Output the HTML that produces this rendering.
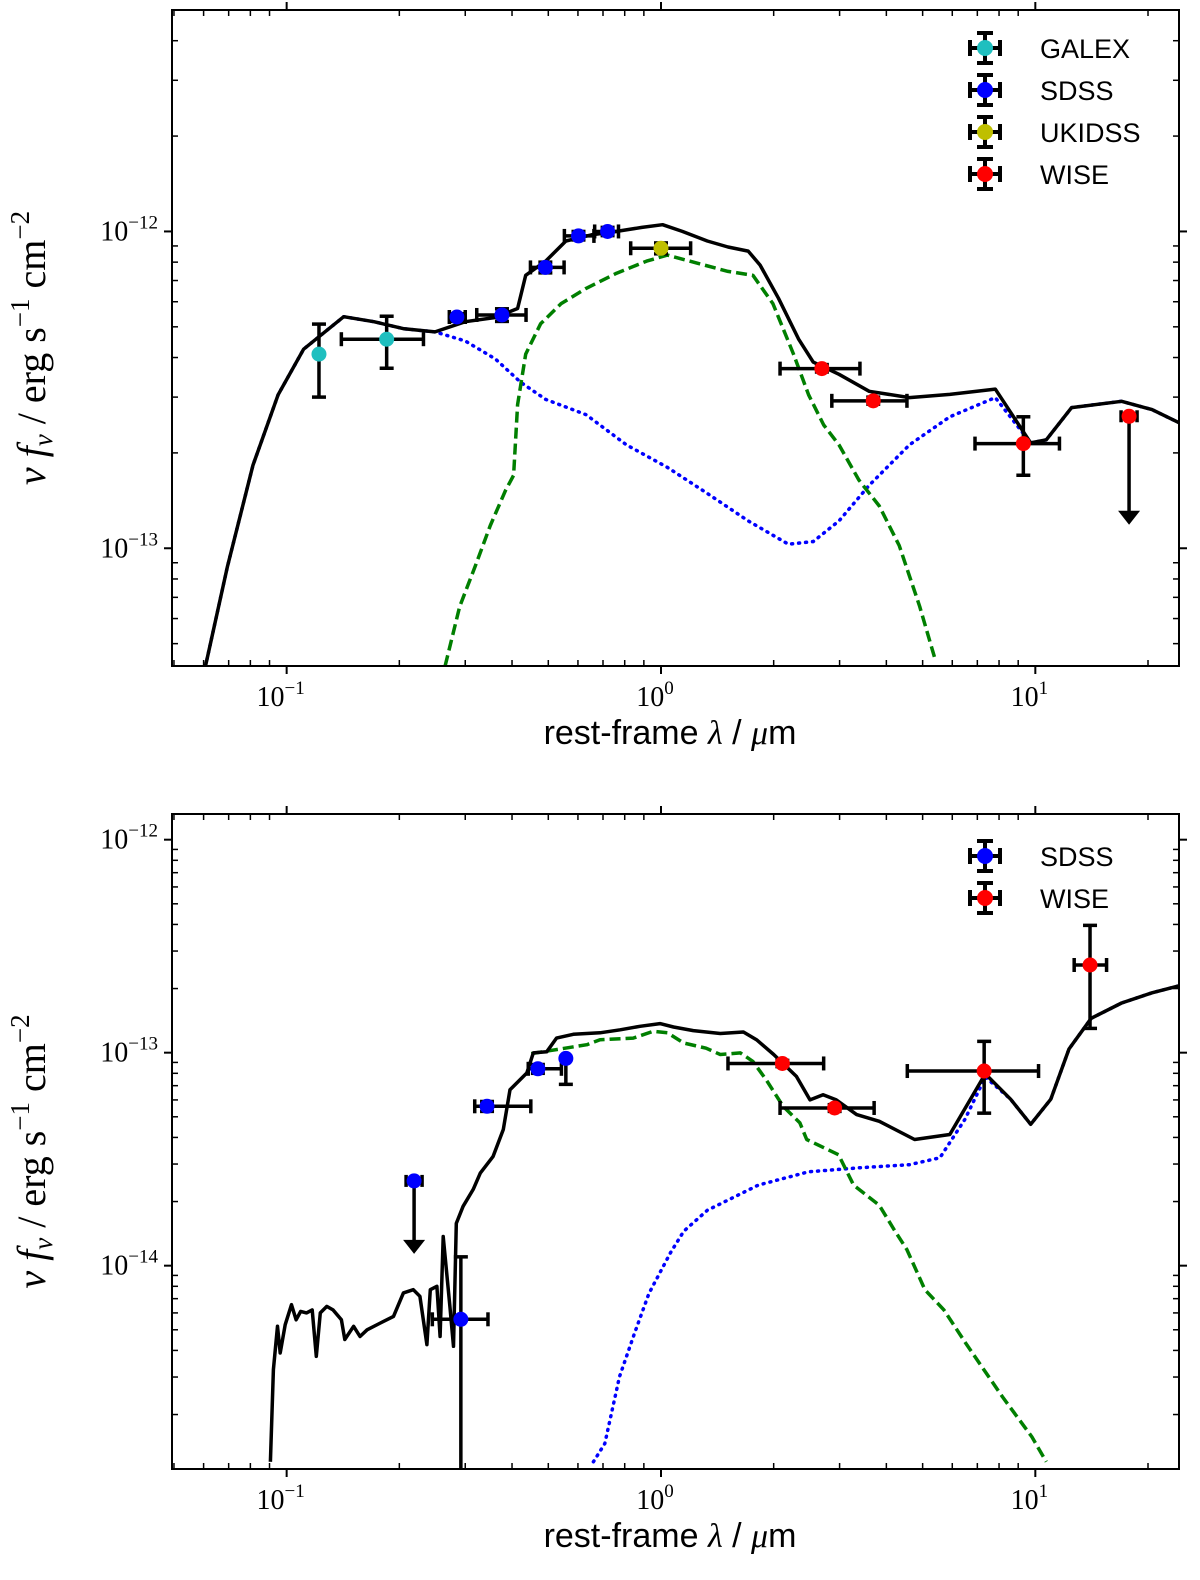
<!DOCTYPE html>
<html><head><meta charset="utf-8"><title>SED fits</title>
<style>html,body{margin:0;padding:0;background:#fff;width:1200px;height:1580px;overflow:hidden}svg{display:block}</style></head>
<body>
<svg id="fig" xmlns="http://www.w3.org/2000/svg" width="1200" height="1580" viewBox="0 0 1200 1580"></svg>
<script>
// ---------------- TOP PANEL DATA ----------------
const topModelLam = [0.0607,0.0695,0.0813,0.0949,0.111,0.142,0.171,0.206,0.249,0.300,0.361,0.414,0.435,0.492,0.557,0.651,0.761,0.889,1.01,1.14,1.33,1.51,1.71,1.84,2.06,2.33,2.55,2.99,3.60,4.61,5.91,7.82,9.72,10.7,12.5,17.0,20.5,24.4];
const topModelFlux = [4.22e-14,8.77e-14,1.83e-13,3.05e-13,4.25e-13,5.38e-13,5.19e-13,4.93e-13,4.82e-13,5.19e-13,5.35e-13,5.71e-13,7.27e-13,8.06e-13,9.33e-13,9.75e-13,1.00e-12,1.03e-12,1.05e-12,1.00e-12,9.33e-13,8.93e-13,8.67e-13,7.83e-13,6.15e-13,4.58e-13,3.87e-13,3.54e-13,3.13e-13,2.99e-13,3.06e-13,3.18e-13,2.15e-13,2.20e-13,2.78e-13,2.91e-13,2.74e-13,2.49e-13];
const topAgnLam = [0.0607,0.0695,0.0813,0.0949,0.111,0.142,0.171,0.206,0.249,0.300,0.361,0.422,0.492,0.631,0.809,1.04,1.33,1.71,2.19,2.55,2.99,3.60,4.61,5.91,7.82,9.72,10.7,12.5,17.0,20.5,24.4];
const topAgnFlux = [4.22e-14,8.77e-14,1.83e-13,3.05e-13,4.25e-13,5.38e-13,5.19e-13,4.93e-13,4.82e-13,4.51e-13,3.96e-13,3.34e-13,2.95e-13,2.64e-13,2.12e-13,1.80e-13,1.49e-13,1.22e-13,1.03e-13,1.05e-13,1.22e-13,1.58e-13,2.12e-13,2.60e-13,2.99e-13,2.15e-13,2.20e-13,2.78e-13,2.91e-13,2.74e-13,2.49e-13];
const topHostLam = [0.265,0.290,0.319,0.350,0.384,0.404,0.414,0.435,0.477,0.541,0.631,0.761,0.916,1.04,1.25,1.51,1.76,1.99,2.26,2.48,2.72,2.99,3.38,3.83,4.33,4.91,5.38];
const topHostFlux = [4.22e-14,6.55e-14,8.77e-14,1.18e-13,1.52e-13,1.70e-13,2.84e-13,4.10e-13,5.11e-13,5.92e-13,6.61e-13,7.38e-13,8.06e-13,8.42e-13,7.94e-13,7.48e-13,7.27e-13,5.92e-13,4.10e-13,3.05e-13,2.45e-13,2.12e-13,1.64e-13,1.36e-13,1.02e-13,6.55e-14,4.53e-14];
const topPtSurvey = ["GALEX","GALEX","SDSS","SDSS","SDSS","SDSS","SDSS","UKIDSS","WISE","WISE","WISE","WISE"];
const topPtLam   = [0.122,0.185,0.285,0.376,0.491,0.602,0.720,1.00,2.69,3.69,9.29,17.8];
const topPtFlux  = [4.1e-13,4.57e-13,5.37e-13,5.45e-13,7.7e-13,9.68e-13,1.0e-12,8.85e-13,3.69e-13,2.92e-13,2.14e-13,2.61e-13];
const topPtLamLo = [0.122,0.140,0.272,0.322,0.448,0.552,0.665,0.83,2.08,2.86,6.9,17.8];
const topPtLamHi = [0.122,0.232,0.300,0.436,0.551,0.662,0.770,1.20,3.40,4.54,11.6,17.8];
const topPtFluxLo= [3.0e-13,3.7e-13,5.2e-13,5.2e-13,7.4e-13,9.4e-13,9.7e-13,8.5e-13,3.6e-13,2.85e-13,1.7e-13,2.61e-13];
const topPtFluxHi= [5.1e-13,5.4e-13,5.5e-13,5.7e-13,8.0e-13,1.0e-12,1.03e-12,9.2e-13,3.8e-13,3.0e-13,2.6e-13,2.61e-13];
const topPtUpper = [0,0,0,0,0,0,0,0,0,0,0,1];
const topLegend = ["GALEX","SDSS","UKIDSS","WISE"];
// ---------------- BOTTOM PANEL DATA ----------------
const botModelLam = [0.0905,0.0922,0.0945,0.0961,0.0991,0.103,0.106,0.109,0.113,0.117,0.120,0.123,0.128,0.133,0.140,0.143,0.151,0.157,0.164,0.178,0.193,0.205,0.218,0.227,0.237,0.242,0.252,0.257,0.262,0.273,0.279,0.284,0.296,0.315,0.329,0.356,0.379,0.395,0.438,0.456,0.495,0.526,0.583,0.687,0.778,0.879,0.994,1.08,1.22,1.44,1.66,1.80,2.0,2.30,2.50,2.71,2.94,3.33,3.83,4.76,5.91,7.35,8.59,9.72,11.0,12.3,14.1,17.0,20.5,24.4];
const botModelFlux = [1.2e-15,3.25e-15,5.19e-15,3.89e-15,5.28e-15,6.56e-15,5.57e-15,6.1e-15,6.0e-15,6.2e-15,3.75e-15,6.0e-15,6.44e-15,6.2e-15,5.57e-15,4.5e-15,5.19e-15,4.65e-15,5.0e-15,5.38e-15,5.78e-15,7.45e-15,7.71e-15,7.18e-15,4.26e-15,7.71e-15,8.0e-15,4.65e-15,1.37e-14,6.44e-15,4.18e-15,1.58e-14,1.90e-14,2.28e-14,2.72e-14,3.26e-14,4.36e-14,6.7e-14,8.03e-14,9.98e-14,1.01e-13,1.17e-13,1.22e-13,1.24e-13,1.28e-13,1.33e-13,1.37e-13,1.32e-13,1.27e-13,1.23e-13,1.25e-13,1.15e-13,9.8e-14,7.74e-14,6.0e-14,6.35e-14,6.0e-14,5.12e-14,4.76e-14,3.91e-14,4.13e-14,7.95e-14,6.05e-14,4.61e-14,6.05e-14,1.04e-13,1.45e-13,1.71e-13,1.91e-13,2.06e-13];
const botAgnLam = [0.66,0.708,0.775,0.849,0.929,1.06,1.15,1.33,1.82,2.48,3.38,4.61,5.56,6.49,7.35,8.59,9.72,11.0,12.3,14.1,17.0,20.5,24.4];
const botAgnFlux = [1.2e-15,1.46e-15,3.01e-15,4.80e-15,7.42e-15,1.15e-14,1.45e-14,1.82e-14,2.39e-14,2.76e-14,2.88e-14,2.98e-14,3.21e-14,4.87e-14,7.69e-14,6.05e-14,4.61e-14,6.05e-14,1.04e-13,1.45e-13,1.71e-13,1.91e-13,2.06e-13];
const botHostLam = [0.45,0.634,0.687,0.843,0.954,1.04,1.15,1.32,1.44,1.63,1.76,1.91,2.12,2.35,2.45,2.98,3.27,3.83,4.2,4.54,5.07,5.70,6.52,8.17,9.79,10.7];
const botHostFlux = [9.9e-14,1.09e-13,1.15e-13,1.17e-13,1.26e-13,1.24e-13,1.11e-13,1.05e-13,9.8e-14,9.98e-14,9.1e-14,7.46e-14,5.6e-14,4.68e-14,3.91e-14,3.32e-14,2.39e-14,1.92e-14,1.47e-14,1.19e-14,7.71e-15,6.2e-15,4.32e-15,2.42e-15,1.57e-15,1.2e-15];
const botPtSurvey = ["SDSS","SDSS","SDSS","SDSS","SDSS","WISE","WISE","WISE","WISE"];
const botPtLam   = [0.219,0.292,0.343,0.469,0.557,2.11,2.91,7.3,14.0];
const botPtFlux  = [2.5e-14,5.6e-15,5.6e-14,8.4e-14,9.4e-14,8.9e-14,5.5e-14,8.2e-14,2.58e-13];
const botPtLamLo = [0.219,0.245,0.318,0.442,0.557,1.51,2.08,4.55,12.7];
const botPtLamHi = [0.219,0.345,0.449,0.542,0.557,2.72,3.71,10.2,15.5];
const botPtFluxLo= [2.5e-14,1e-16,5.3e-14,8.0e-14,7.1e-14,8.6e-14,5.3e-14,5.2e-14,1.3e-13];
const botPtFluxHi= [2.5e-14,1.1e-14,5.9e-14,8.8e-14,9.4e-14,9.2e-14,5.7e-14,1.13e-13,3.96e-13];
const botPtUpper = [1,0,0,0,0,0,0,0,0];
const botLegend = ["SDSS","WISE"];

const surveyColor = {GALEX:"#1fbfbf",SDSS:"#0000ff",UKIDSS:"#bfbf00",WISE:"#ff0000"};
const NS="http://www.w3.org/2000/svg";
const svg=document.getElementById('fig');
function mk(tag,attrs,parent){const e=document.createElementNS(NS,tag);for(const k in attrs)e.setAttribute(k,attrs[k]);(parent||svg).appendChild(e);return e;}

function panel(cfg){
  const L=172,R=1179,T=cfg.top,B=cfg.bottom;
  const lx0=Math.log10(0.0494),lx1=Math.log10(24.2);
  const ly0=Math.log10(cfg.ymin),ly1=Math.log10(cfg.ymax);
  const X=v=>Math.max(L,Math.min(R,L+(Math.log10(v)-lx0)/(lx1-lx0)*(R-L)));
  const Y=v=>Math.max(T,Math.min(B,B-(Math.log10(v)-ly0)/(ly1-ly0)*(B-T)));
  const g=mk('g',{});
  
  
  const defs=mk('defs',{},g);
  const cp=mk('clipPath',{id:cfg.name+'-clip'},defs);
  mk('rect',{x:L,y:T,width:R-L,height:B-T},cp);
  const plot=mk('g',{'clip-path':'url(#'+cfg.name+'-clip)'},g);
  function line(lams,fl,style,name){
    let d='';lams.forEach((l,i)=>{d+=(i?'L':'M')+X(l).toFixed(1)+' '+Y(fl[i]).toFixed(1);});
    const p=mk('path',Object.assign({d:d,fill:'none','stroke-linejoin':'round'},style),plot);
    
    
  }
  line(cfg.agnLam,cfg.agnFlux,{stroke:'#0000ff','stroke-width':3.5,'stroke-dasharray':'1 6','stroke-linecap':'round'},'agn-component-line');
  line(cfg.hostLam,cfg.hostFlux,{stroke:'#007f00','stroke-width':3.5,'stroke-dasharray':'11 5'},'host-galaxy-line');
  line(cfg.modLam,cfg.modFlux,{stroke:'#000','stroke-width':3.5},'total-model-line');
  cfg.lam.forEach((l,i)=>{
    const pg=mk('g',{},plot);
    
    
    const x=X(l),y=Y(cfg.flux[i]);
    const xl=X(cfg.lamLo[i]),xh=X(cfg.lamHi[i]);
    const st={stroke:'#000','stroke-width':3.5};
    if(cfg.upper[i]){
      const yTip=Y(cfg.flux[i]/2.2);
      mk('line',Object.assign({x1:x,y1:y,x2:x,y2:yTip-12},st),pg);
      mk('path',{d:`M${x-11} ${yTip-14}L${x+11} ${yTip-14}L${x} ${yTip}Z`,fill:'#000'},pg);
      mk('line',Object.assign({x1:x-8,y1:y-6,x2:x-8,y2:y+6},st),pg);
      mk('line',Object.assign({x1:x+8,y1:y-6,x2:x+8,y2:y+6},st),pg);
    } else {
      const yl=Y(cfg.fluxLo[i]),yh=Y(cfg.fluxHi[i]);
      if(xh-xl>2){mk('line',Object.assign({x1:xl,y1:y,x2:xh,y2:y},st),pg);
        mk('line',Object.assign({x1:xl,y1:y-7,x2:xl,y2:y+7},st),pg);
        mk('line',Object.assign({x1:xh,y1:y-7,x2:xh,y2:y+7},st),pg);}
      if(yl-yh>2){mk('line',Object.assign({x1:x,y1:yh,x2:x,y2:yl},st),pg);
        mk('line',Object.assign({x1:x-7,y1:yh,x2:x+7,y2:yh},st),pg);
        if(yl<B-1)mk('line',Object.assign({x1:x-7,y1:yl,x2:x+7,y2:yl},st),pg);}
    }
    mk('circle',{cx:x,cy:y,r:7.5,fill:surveyColor[cfg.survey[i]]},pg);
  });
  const fr=mk('rect',{x:L,y:T,width:R-L,height:B-T,fill:'none',stroke:'#000','stroke-width':2},g);
  
  
  for(let e=-2;e<=1;e++){for(let m=1;m<10;m++){const v=m*Math.pow(10,e);const x=X(v);if(x<L+1||x>R-1)continue;
    if(m===1){mk('line',{x1:x,y1:B,x2:x,y2:B+8,stroke:'#000','stroke-width':2},g);mk('line',{x1:x,y1:T,x2:x,y2:T-8,stroke:'#000','stroke-width':2},g);
      const t=mk('text',{x:x-6,y:B+40,'text-anchor':'middle','font-family':'"Liberation Serif",serif','font-size':28},g);
      
      
      t.textContent='10';const s=mk('tspan',{dy:-12,'font-size':19},t);s.textContent=e===0?'0':(e<0?'\u2212'+(-e):String(e));}
    else{mk('line',{x1:x,y1:B,x2:x,y2:B-6,stroke:'#000','stroke-width':1.5},g);mk('line',{x1:x,y1:T,x2:x,y2:T+6,stroke:'#000','stroke-width':1.5},g);}}}
  for(let e=-16;e<=-11;e++){for(let m=1;m<10;m++){const v=m*Math.pow(10,e);const y=Y(v);if(y<T+1||y>B-1)continue;
    if(m===1){mk('line',{x1:L,y1:y,x2:L-8,y2:y,stroke:'#000','stroke-width':2},g);mk('line',{x1:R,y1:y,x2:R+8,y2:y,stroke:'#000','stroke-width':2},g);
      const t=mk('text',{x:L-14,y:y+9,'text-anchor':'end','font-family':'"Liberation Serif",serif','font-size':28},g);
      
      
      t.textContent='10';const s=mk('tspan',{dy:-12,'font-size':19},t);s.textContent='\u2212'+(-e);}
    else{mk('line',{x1:L,y1:y,x2:L+6,y2:y,stroke:'#000','stroke-width':1.5},g);mk('line',{x1:R,y1:y,x2:R-6,y2:y,stroke:'#000','stroke-width':1.5},g);}}}
  const xt=mk('text',{x:670,y:B+78,'text-anchor':'middle','font-family':'"Liberation Sans",sans-serif','font-size':34},g);
  
  
  xt.innerHTML='rest-frame <tspan font-family="Liberation Serif, serif" font-style="italic">λ</tspan> / <tspan font-family="Liberation Serif, serif" font-style="italic">μ</tspan>m';
  const cy=(T+B)/2+10;
  const yt=mk('text',{x:0,y:0,transform:`translate(45 ${cy}) rotate(-90)`,'text-anchor':'middle','font-family':'"Liberation Serif",serif','font-size':40},g);
  
  
  yt.innerHTML='<tspan font-style="italic">ν f</tspan><tspan font-style="italic" font-size="27" dy="7">ν</tspan><tspan dy="-7"> / erg s</tspan><tspan font-size="27" dy="-16">−1</tspan><tspan dy="16"> cm</tspan><tspan font-size="27" dy="-16">−2</tspan>';
  cfg.legend.forEach((s,i)=>{
    const ly=cfg.legY+i*42,lx=985;
    const lg=mk('g',{},g);
    
    
    const st={stroke:'#000','stroke-width':4};
    mk('line',Object.assign({x1:lx-15,y1:ly,x2:lx+15,y2:ly},st),lg);
    mk('line',Object.assign({x1:lx,y1:ly-15,x2:lx,y2:ly+15},st),lg);
    mk('line',Object.assign({x1:lx-15,y1:ly-8,x2:lx-15,y2:ly+8},st),lg);
    mk('line',Object.assign({x1:lx+15,y1:ly-8,x2:lx+15,y2:ly+8},st),lg);
    mk('line',Object.assign({x1:lx-8,y1:ly-15,x2:lx+8,y2:ly-15},st),lg);
    mk('line',Object.assign({x1:lx-8,y1:ly+15,x2:lx+8,y2:ly+15},st),lg);
    mk('circle',{cx:lx,cy:ly,r:8,fill:surveyColor[s]},lg);
    const t=mk('text',{x:1040,y:ly+10,'font-family':'"Liberation Sans",sans-serif','font-size':27},lg);
    t.textContent=s;
  });
}
panel({name:'top-panel',top:10,bottom:666,ymin:4.25e-14,ymax:5.0e-12,
  modLam:topModelLam,modFlux:topModelFlux,agnLam:topAgnLam,agnFlux:topAgnFlux,hostLam:topHostLam,hostFlux:topHostFlux,
  survey:topPtSurvey,lam:topPtLam,flux:topPtFlux,lamLo:topPtLamLo,lamHi:topPtLamHi,fluxLo:topPtFluxLo,fluxHi:topPtFluxHi,upper:topPtUpper,
  legend:topLegend,legY:48});
panel({name:'bottom-panel',top:814,bottom:1469,ymin:1.11e-15,ymax:1.32e-12,
  modLam:botModelLam,modFlux:botModelFlux,agnLam:botAgnLam,agnFlux:botAgnFlux,hostLam:botHostLam,hostFlux:botHostFlux,
  survey:botPtSurvey,lam:botPtLam,flux:botPtFlux,lamLo:botPtLamLo,lamHi:botPtLamHi,fluxLo:botPtFluxLo,fluxHi:botPtFluxHi,upper:botPtUpper,
  legend:botLegend,legY:856});
</script>
</body></html>
